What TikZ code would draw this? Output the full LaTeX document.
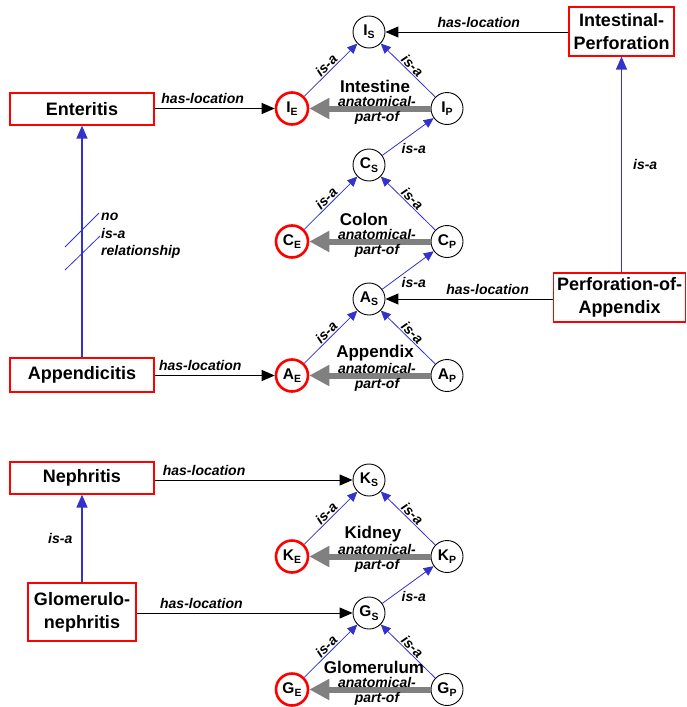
\documentclass[tikz,border=0pt]{standalone}
\usepackage{fontspec}
\setmainfont{Liberation Sans}
\usetikzlibrary{arrows.meta}
\definecolor{isablue}{RGB}{51,51,204}
\definecolor{partgray}{RGB}{128,128,128}
\newcommand{\conc}[2]{#1\raisebox{-0.22em}{\fontsize{10.5}{10.5}\selectfont #2}}
\tikzset{
  disorder/.style={draw=red, line width=1.2pt, fill=white, inner sep=0pt, align=center,
    font=\bfseries\fontsize{18}{23}\selectfont},
  concept/.style={circle, draw, line width=0.9pt, minimum size=32pt, inner sep=0pt,
    font=\bfseries\fontsize{15.5}{15.5}\selectfont},
  entire/.style={concept, draw=red, line width=2.6pt},
  isa/.style={draw=isablue, line width=0.8pt, -{Triangle[length=10pt,width=9pt]}},
  isalong/.style={draw=isablue, line width=1.3pt, -{Triangle[length=13pt,width=11pt]}},
  hasloc/.style={draw=black, line width=1pt, -{Triangle[length=13pt,width=11pt]}},
  partof/.style={draw=partgray, line width=6pt, -{Triangle[length=20pt,width=20pt]}},
  rel/.style={font=\bfseries\itshape\fontsize{14}{15}\selectfont, inner sep=1pt},
  region/.style={font=\bfseries\fontsize{17}{17}\selectfont, inner sep=0pt},
}
\begin{document}
\begin{tikzpicture}[x=1pt,y=-1pt]
  \useasboundingbox (0,0) rectangle (686,707);
  % disorders
  \node[disorder, minimum width=144pt, minimum height=32pt] (Enteritis) at (82,109) {Enteritis};
  \node[disorder, minimum width=144pt, minimum height=34pt] (Appendicitis) at (82,375) {Appendicitis};
  \node[disorder, minimum width=144pt, minimum height=32pt] (Nephritis) at (82,478) {Nephritis};
  \node[disorder, minimum width=108pt, minimum height=58pt] (Glomerulo) at (82,612) {Glomerulo-\\nephritis};
  \node[disorder, minimum width=105pt, minimum height=49pt] (IntPerf) at (621.5,31.5) {Intestinal-\\Perforation};
  \node[disorder, minimum width=132pt, minimum height=49pt] (PerfApp) at (619.5,297.5) {Perforation-of-\\Appendix};
  % anatomy triangles
  \foreach \org/\y/\rname/\tx in {I/32/Intestine/375, C/165/Colon/364, A/299/Appendix/375,
                                  K/480/Kidney/373, G/613/Glomerulum/374} {
    \node[concept] (\org S) at (369,\y) {\conc{\org}{S}};
    \node[entire] (\org E) at (292,\y+76.5) {\conc{\org}{E}};
    \node[concept] (\org P) at (447,\y+76.5) {\conc{\org}{P}};
    \draw[isa] (\org E) -- node[rel, sloped, above] {is-a} (\org S);
    \draw[isa] (\org P) -- node[rel, sloped, above] {is-a} (\org S);
    \draw[partof] (\org P) -- (\org E);
    \node[rel, align=center] (\org lbl) at (377,\y+78) {anatomical-\\part-of};
    \node[region] (\org name) at (\tx,\y+54) {\rname};
  }
  \draw[isa] (CS) -- node[rel, pos=0.35, anchor=north west] {is-a} (IP);
  \draw[isa] (AS) -- node[rel, pos=0.35, anchor=north west] {is-a} (CP);
  \draw[isa] (GS) -- node[rel, pos=0.35, anchor=north west] {is-a} (KP);
  % has-location
  \draw[hasloc] (Enteritis.east |- IE) -- node[rel, above=3pt, pos=0.4] {has-location} (IE);
  \draw[hasloc] (Appendicitis.east |- AE) -- node[rel, above=3pt, pos=0.38] {has-location} (AE);
  \draw[hasloc] (Nephritis.east |- KS) -- node[rel, above=3pt, pos=0.25] {has-location} (KS);
  \draw[hasloc] (Glomerulo.east |- GS) -- node[rel, above=3pt, pos=0.3] {has-location} (GS);
  \draw[hasloc] (IntPerf.west |- IS) -- node[rel, above=3pt, pos=0.49] {has-location} (IS);
  \draw[hasloc] (PerfApp.west |- AS) -- node[rel, above=3pt, pos=0.39] {has-location} (AS);
  % is-a between disorders
  \draw[isalong] (Appendicitis) -- (Enteritis);
  \draw[isablue, line width=0.8pt] (65,247) -- (99,213) (65,270) -- (100,236);
  \node[rel, anchor=west, align=left, font=\bfseries\itshape\fontsize{14}{17.5}\selectfont] (noisa) at (100,236) {no\\is-a\\relationship};
  \draw[isalong] (PerfApp.north -| IntPerf) -- node[rel, right=10pt] {is-a} (IntPerf);
  \draw[isalong] (Glomerulo) -- node[rel, left=8pt] {is-a} (Nephritis);
\end{tikzpicture}
\end{document}
